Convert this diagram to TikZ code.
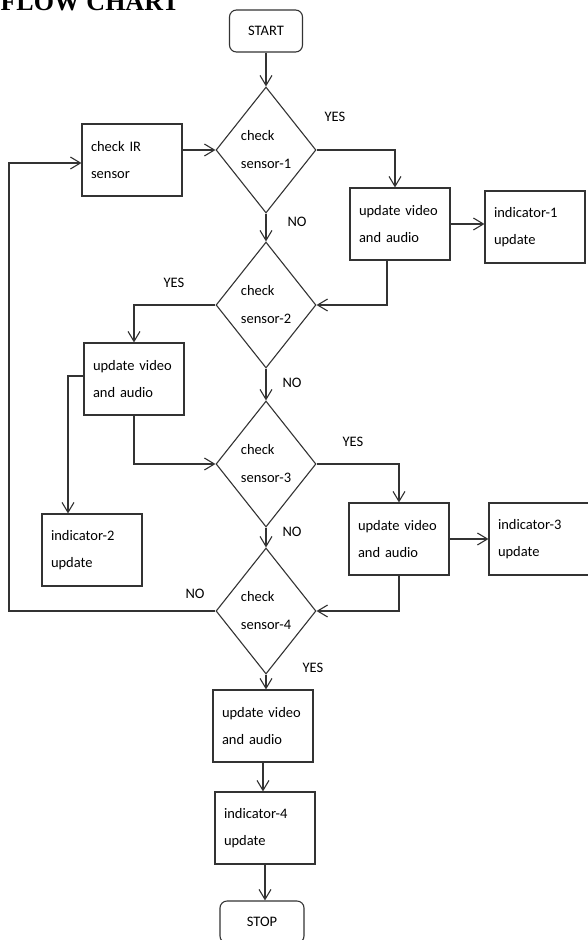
\documentclass[tikz,border=0pt]{standalone}
\usepackage{fontspec}
\setmainfont{Carlito}
\newfontfamily\titulo{Liberation Serif}
\usetikzlibrary{positioning,shapes.geometric,arrows.meta}
\tikzset{
  caja/.style={draw=black!80,line width=1.1pt,minimum width=100pt,minimum height=72pt,
    text width=82pt,inner xsep=9pt,align=left,font=\fontsize{14.5}{27}\selectfont},
  rombo/.style={draw=black!80,line width=1.1pt,diamond,minimum width=100pt,minimum height=126pt,
    inner sep=0pt,align=left,font=\fontsize{14.5}{28}\selectfont},
  terminal/.style={draw=black!80,line width=1.1pt,rounded corners=7pt,minimum height=42pt,
    font=\fontsize{14.5}{17}\selectfont},
  etiq/.style={font=\fontsize{14.5}{17}\selectfont},
  arr/.style={line width=1.1pt,draw=black!80,->,>={Straight Barb[length=10pt,width=12pt]}}
}
\begin{document}
\begin{tikzpicture}[x=1pt,y=-1pt]
	\useasboundingbox (0,0) rectangle (587,940);
	\node[anchor=base west,font=\titulo\bfseries\fontsize{26}{30}\selectfont] (titulo) at (-3,10) {FLOW CHART};

	\node[terminal,minimum width=73pt] (start) at (266,31) {START};
	\node[rombo] (s1) at (266,150) {check\\sensor-1};
	\node[caja] (ir) at (132,160) {check IR\\sensor};
	\node[caja] (upd1) at (400,224) {update video\\and audio};
	\node[caja] (ind1) at (535,227) {indicator-1\\update};
	\node[rombo] (s2) at (266,305) {check\\sensor-2};
	\node[caja] (upd2) at (134,379) {update video\\and audio};
	\node[caja] (ind2) at (92,550) {indicator-2\\update};
	\node[rombo] (s3) at (266,464) {check\\sensor-3};
	\node[caja] (upd3) at (399,539) {update video\\and audio};
	\node[caja] (ind3) at (539,539) {indicator-3\\update};
	\node[rombo] (s4) at (266,611) {check\\sensor-4};
	\node[caja] (upd4) at (263,726) {update video\\and audio};
	\node[caja] (ind4) at (265,828) {indicator-4\\update};
	\node[terminal,minimum width=84pt] (stop) at (262,922) {STOP};
	\coordinate (lazo) at (9,163);

	\node[etiq] (si1) at (335,117) {YES};
	\node[etiq] (no1) at (297,222) {NO};
	\node[etiq] (si2) at (174,283) {YES};
	\node[etiq] (no2) at (292,383) {NO};
	\node[etiq] (si3) at (353,442) {YES};
	\node[etiq] (no3) at (292,532) {NO};
	\node[etiq] (no4) at (195,594) {NO};
	\node[etiq] (si4) at (313,668) {YES};

	\draw[arr] (start) -- (s1);
	\draw[arr] (ir.east |- s1.west) -- (s1.west);
	\draw[arr] (s1.east) -| ([xshift=-5pt]upd1.north);
	\draw[arr] (upd1.east) -- (upd1.east -| ind1.west);
	\draw[arr] ([xshift=-13pt]upd1.south) |- (s2.east);
	\draw[arr] (s1) -- (s2);
	\draw[arr] (s2.west) -| (upd2.north);
	\draw[arr] ([yshift=3pt]upd2.west) -| ([xshift=-24pt]ind2.north);
	\draw[arr] (upd2.south) |- (s3.west);
	\draw[arr] (s2) -- (s3);
	\draw[arr] (s3.east) -| (upd3.north);
	\draw[arr] (upd3.east) -- (ind3.west);
	\draw[arr] (upd3.south) |- (s4.east);
	\draw[arr] (s3) -- (s4);
	\draw[arr] (s4.west) -| (lazo) -- (lazo -| ir.west);
	\draw[arr] (s4.south) -- (s4.south |- upd4.north);
	\draw[arr] (upd4.south) -- (upd4.south |- ind4.north);
	\draw[arr] (ind4.south) -- (ind4.south |- stop.north);
\end{tikzpicture}
\end{document}
